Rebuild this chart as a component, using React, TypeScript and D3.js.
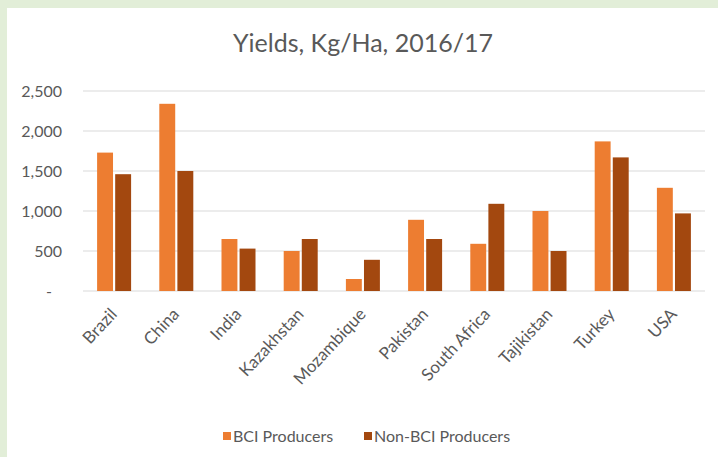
import React from "react";
import * as d3 from "d3";

const countries = ["Brazil", "China", "India", "Kazakhstan", "Mozambique", "Pakistan", "South Africa", "Tajikistan", "Turkey", "USA"];
const bciValues = [1730, 2340, 650, 500, 150, 890, 590, 1000, 1870, 1290];
const nonBciValues = [1460, 1500, 530, 650, 390, 650, 1090, 500, 1670, 970];
const seriesNames = ["BCI Producers", "Non-BCI Producers"];
const seriesColors = ["#ED7D31", "#A3480F"];
const yTicks = [0, 500, 1000, 1500, 2000, 2500];

const W = 718;
const H = 457;
const FONT = "Lato, 'Open Sans', sans-serif";

export default function App() {
  const x = d3.scaleBand<string>().domain(countries).range([83, 705]).paddingInner(0).paddingOuter(0);
  const y = d3.scaleLinear().domain([0, 2500]).range([291, 91]);
  const inner = d3.scaleBand<number>().domain([0, 1]).range([0, 34]).paddingInner(0.12);
  const fmt = (v: number) => (v === 0 ? "-" : d3.format(",")(v));
  const series = [bciValues, nonBciValues];

  return (
    <svg width={W} height={H} style={{ position: "absolute", left: 0, top: 0 }}>
      <rect x={0} y={0} width={W} height={H} fill="#E2EED8" />
      <rect x={7} y={8} width={W - 7} height={H - 8} fill="#ffffff" />
      <text x={363} y={52} textAnchor="middle" fontFamily={FONT} fontSize={25} fill="#595959">
        Yields, Kg/Ha, 2016/17
      </text>
      {yTicks.map((t) => (
        <g key={t}>
          <line x1={83} x2={705} y1={y(t)} y2={y(t)} stroke="#D9D9D9" strokeWidth={1} />
          <text x={t === 0 ? 52 : 62} y={y(t) + 5.5} textAnchor="end" fontFamily={FONT} fontSize={16} fill="#595959">
            {fmt(t)}
          </text>
        </g>
      ))}
      {countries.map((c, i) => {
        const cx = (x(c) ?? 0) + x.bandwidth() / 2;
        return (
          <g key={c}>
            {series.map((vals, s) => (
              <rect
                key={s}
                x={cx - 17 + (inner(s) ?? 0)}
                y={y(vals[i])}
                width={inner.bandwidth()}
                height={y(0) - y(vals[i])}
                fill={seriesColors[s]}
              />
            ))}
            <text
              transform={`translate(${cx + 4},${y(0) + 24}) rotate(-47)`}
              textAnchor="end"
              fontFamily={FONT}
              fontSize={17}
              fill="#595959"
            >
              {c}
            </text>
          </g>
        );
      })}
      {seriesNames.map((n, s) => {
        const lx = s === 0 ? 223 : 364;
        return (
          <g key={n}>
            <rect x={lx} y={432} width={8} height={8} fill={seriesColors[s]} />
            <text x={lx + 10} y={441.5} fontFamily={FONT} fontSize={16} fill="#595959">
              {n}
            </text>
          </g>
        );
      })}
    </svg>
  );
}
